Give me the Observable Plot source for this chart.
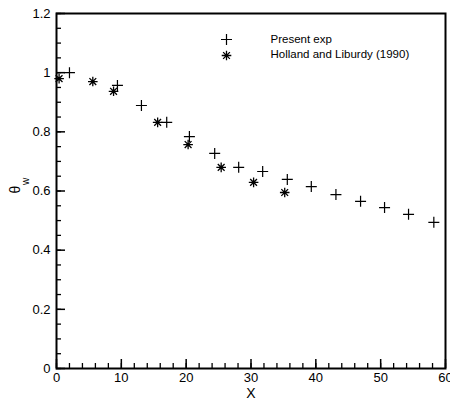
<!DOCTYPE html>
<html><head><meta charset="utf-8">
<script src="https://cdn.jsdelivr.net/npm/d3@7"></script>
<script src="https://cdn.jsdelivr.net/npm/@observablehq/plot@0.6"></script>
<style>body{margin:0;background:#fff}</style>
</head><body><div id="chart"></div>
<script>
const presentX = [2.0, 9.4, 13.1, 17.0, 20.5, 24.4, 28.1, 31.8, 35.6, 39.3, 43.1, 46.9, 50.6, 54.3, 58.2];
const presentY = [1.0, 0.957, 0.889, 0.832, 0.784, 0.727, 0.680, 0.666, 0.639, 0.615, 0.588, 0.565, 0.544, 0.521, 0.494];
const hollandX = [0.4, 5.6, 8.8, 15.6, 20.3, 25.4, 30.4, 35.2];
const hollandY = [0.98, 0.970, 0.937, 0.832, 0.757, 0.680, 0.629, 0.595];
const seriesNames = ["Present exp", "Holland and Liburdy (1990)"];
const xTicks = [0, 10, 20, 30, 40, 50, 60];
const yTicks = [0, 0.2, 0.4, 0.6, 0.8, 1, 1.2];
const xLabel = "X";

const present = presentX.map((x, i) => ({x, y: presentY[i]}));
const holland = hollandX.map((x, i) => ({x, y: hollandY[i]}));

const plusSym = {draw(ctx, size) {
  const r = Math.sqrt(size / Math.PI);
  ctx.moveTo(-r, 0); ctx.lineTo(r, 0);
  ctx.moveTo(0, -r); ctx.lineTo(0, r);
}};
const starSym = {draw(ctx, size) {
  const r = Math.sqrt(size / Math.PI);
  for (let k = 0; k < 4; k++) {
    const a = k * Math.PI / 4;
    ctx.moveTo(-r * Math.cos(a), -r * Math.sin(a));
    ctx.lineTo(r * Math.cos(a), r * Math.sin(a));
  }
}};

const font = "'Liberation Sans', Arial, Helvetica, sans-serif";

const chart = Plot.plot({
  width: 450, height: 402,
  marginLeft: 56, marginRight: 5, marginTop: 13, marginBottom: 34,
  x: {domain: [0, 60]},
  y: {domain: [0, 1.2]},
  style: {fontFamily: font, fontSize: "13px", background: "white", color: "black"},
  marks: [
    Plot.axisX({ticks: d3.range(0, 61, 2), tickSize: -5, text: null, label: null, strokeWidth: 1.3}),
    Plot.axisX({ticks: xTicks, tickSize: -9, text: null, label: null, strokeWidth: 1.5}),
    Plot.axisX({ticks: xTicks, tickSize: 0, tickPadding: 4, label: null, tickFormat: d => String(d), fontSize: 13}),
    Plot.axisY({ticks: d3.range(0, 1.2001, 0.05), tickSize: -5, text: null, label: null, strokeWidth: 1.3}),
    Plot.axisY({ticks: yTicks, tickSize: -9, text: null, label: null, strokeWidth: 1.5}),
    Plot.axisY({ticks: yTicks, tickSize: 0, tickPadding: 6, label: null, tickFormat: d => String(+d.toFixed(1)), fontSize: 13}),
    Plot.frame({stroke: "black", strokeWidth: 2}),
    Plot.dot(present, {x: "x", y: "y", symbol: plusSym, r: 5.5, stroke: "black", strokeWidth: 1.2, fill: "none"}),
    Plot.dot(holland, {x: "x", y: "y", symbol: starSym, r: 4.8, stroke: "black", strokeWidth: 1.3, fill: "none"}),
    // legend
    Plot.dot([seriesNames[0]], {frameAnchor: "top-left", dx: 170, dy: 26, symbol: plusSym, r: 5.5, stroke: "black", strokeWidth: 1.2}),
    Plot.dot([seriesNames[1]], {frameAnchor: "top-left", dx: 170, dy: 42, symbol: starSym, r: 4.8, stroke: "black", strokeWidth: 1.3}),
    Plot.text([seriesNames[0]], {frameAnchor: "top-left", dx: 214, dy: 26, text: d => d, textAnchor: "start", lineAnchor: "middle", fontSize: 11.5}),
    Plot.text([seriesNames[1]], {frameAnchor: "top-left", dx: 214, dy: 41, text: d => d, textAnchor: "start", lineAnchor: "middle", fontSize: 11.5}),
    // axis titles
    Plot.text([xLabel], {frameAnchor: "bottom", dy: 25, text: d => d, lineAnchor: "middle", fontSize: 14}),
    Plot.text(["θ"], {frameAnchor: "left", dx: -41, dy: 2.5, rotate: -90, text: d => d, lineAnchor: "middle", fontSize: 14}),
    Plot.text(["w"], {frameAnchor: "left", dx: -31, dy: -6, rotate: -90, text: d => d, lineAnchor: "middle", fontSize: 10})
  ]
});
document.getElementById("chart").appendChild(chart);
</script>
</body></html>
